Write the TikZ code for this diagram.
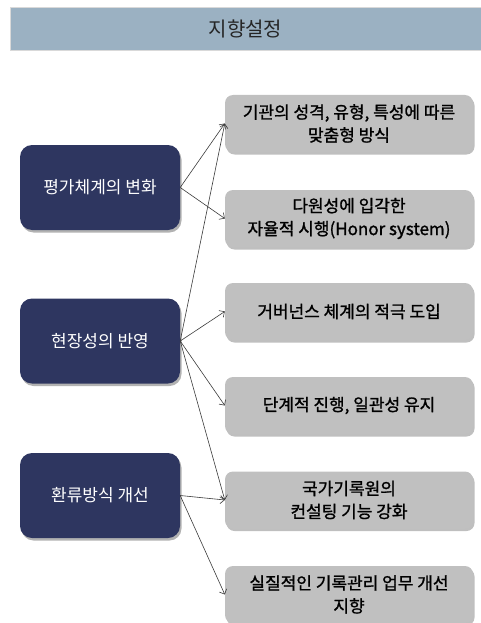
\documentclass[tikz,border=0pt]{standalone}
\usepackage{fontspec}
\setmainfont{Noto Sans CJK KR}
\newfontfamily\heavyfont[FakeBold=1.2]{Noto Sans CJK KR}
\usetikzlibrary{shadows,arrows.meta}
\definecolor{headblue}{HTML}{9BB1C2}
\definecolor{navy}{HTML}{2E3660}
\definecolor{boxgray}{HTML}{C0C0C0}
\definecolor{linegray}{HTML}{3A3A3A}

\begin{document}
\begin{tikzpicture}[x=1pt,y=-1pt,
    every node/.style={font=\fontsize{17}{23}\selectfont},
    topic/.style={fill=navy, text=white, rounded corners=12pt, minimum width=160pt,
      minimum height=85pt, inner sep=0pt,
      drop shadow={shadow xshift=1.5pt, shadow yshift=-2.5pt, opacity=0.3, fill=black}},
    goal/.style={fill=boxgray, rounded corners=8pt, minimum width=248pt,
      minimum height=57pt, inner sep=0pt, align=center,
      font=\fontsize{17}{23}\selectfont\heavyfont,
      drop shadow={shadow xshift=1.5pt, shadow yshift=-2.5pt, opacity=0.25, fill=black}},
    link/.style={draw=linegray, line width=0.6pt, -{Straight Barb[length=4pt,width=8pt]}}]
    \useasboundingbox (0,0) rectangle (481,623);
    \node[fill=headblue, draw=black!15, minimum width=471pt, minimum height=43pt,
      inner sep=0pt, font=\fontsize{20}{22}\selectfont, text=black!85] (head) at (245.5,28.5) {지향설정};
    % left column
    \node[topic] (eval) at (100,187.5) {평가체계의 변화};
    \node[topic] (site) at (100,341) {현장성의 반영};
    \node[topic] (feedback) at (100,495.5) {환류방식 개선};
    % right column
    \node[goal] (custom) at (349,123.5) {기관의 성격, 유형, 특성에 따른\\맞춤형 방식};
    \node[goal] (honor) at (349,218.5) {다원성에 입각한\\자율적 시행(Honor system)};
    \node[goal] (govern) at (349,311.5) {거버넌스 체계의 적극 도입};
    \node[goal] (stage) at (349,405.5) {단계적 진행, 일관성 유지};
    \node[goal] (consult) at (349,500) {국가기록원의\\컨설팅 기능 강화};
    \node[goal] (practice) at (349,594.5) {실질적인 기록관리 업무 개선\\지향};
    \foreach \a/\b in {eval/custom, eval/honor, site/custom, site/govern, site/stage,
      site/consult, feedback/consult, feedback/practice}
      \draw[link] (\a.east) -- (\b.west);
\end{tikzpicture}
\end{document}
